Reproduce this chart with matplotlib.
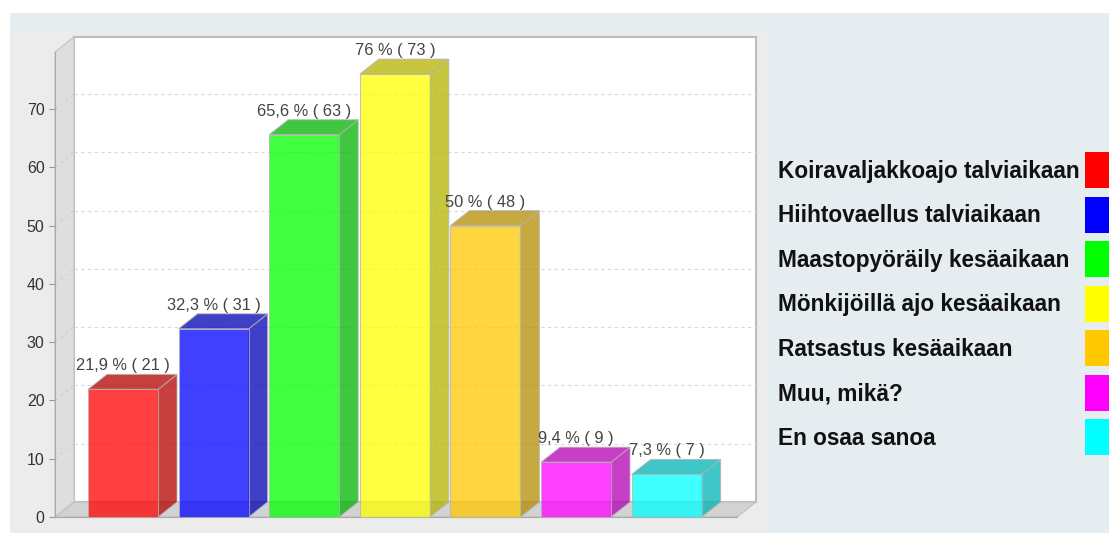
import matplotlib
matplotlib.use("Agg")
import matplotlib.pyplot as plt
from matplotlib.patches import Rectangle, Polygon
import matplotlib.colors as mcolors

# data
categories = ["Koiravaljakkoajo talviaikaan", "Hiihtovaellus talviaikaan",
              "Maastopyöräily kesäaikaan", "Mönkijöillä ajo kesäaikaan",
              "Ratsastus kesäaikaan", "Muu, mikä?", "En osaa sanoa"]
percents = [21.9, 32.3, 65.6, 76, 50, 9.4, 7.3]
counts = [21, 31, 63, 73, 48, 9, 7]
colors = ["#ff0000", "#0000ff", "#00ff00", "#ffff00", "#ffc800", "#ff00ff", "#00ffff"]
yticks = [0, 10, 20, 30, 40, 50, 60, 70]

W, H = 1109, 533
DEPTH_X, DEPTH_Y = 19, 15  # 3d offset in pixels
ALPHA = 0.75

plt.rcParams['font.family'] = ['Liberation Sans', 'DejaVu Sans']

fig = plt.figure(figsize=(W / 100, H / 100), dpi=100)
fig.patch.set_facecolor("white")

def px_rect(x0, y0, x1, y1, color):
    # rectangle given in pixels from top-left
    fig.add_artist(Rectangle((x0 / W, 1 - y1 / H), (x1 - x0) / W, (y1 - y0) / H,
                             transform=fig.transFigure, facecolor=color,
                             edgecolor="none", zorder=-10))

px_rect(10, 13, W, H, "#e6edf1")
px_rect(10, 30, 767, H, "#ececec")

# front plot area (pixels)
left, right, bottom, top = 55, 737, 517, 52
ax = fig.add_axes([left / W, 1 - bottom / H, (right - left) / W, (bottom - top) / H])
ax.patch.set_visible(False)

step = 90.6
xl, xr = (left - 123) / step, (right - 123) / step
ymax = 79.8
ax.set_xlim(xl, xr)
ax.set_ylim(0, ymax)
ddx = DEPTH_X * (xr - xl) / (right - left)
ddy = DEPTH_Y * ymax / (bottom - top)

# back wall
ax.add_patch(Rectangle((xl + ddx, ddy), xr - xl, ymax, facecolor="white",
                       edgecolor="#bcbcbc", lw=1.5, clip_on=False, zorder=0))
# left wall
ax.add_patch(Polygon([(xl, 0), (xl + ddx, ddy), (xl + ddx, ymax + ddy), (xl, ymax)],
                     closed=True, facecolor="#dedede", edgecolor="#c4c4c4", lw=0.8,
                     clip_on=False, zorder=0.5))
# grid lines
for v in yticks[1:]:
    ax.plot([xl + ddx, xr + ddx], [v + ddy, v + ddy], color="#d9d9d9", lw=0.8,
            ls=(0, (3, 3)), clip_on=False, zorder=1)
    ax.plot([xl, xl + ddx], [v, v + ddy], color="#d0d0d0", lw=0.8,
            ls=(0, (3, 3)), clip_on=False, zorder=1)
# floor
ax.add_patch(Polygon([(xl, 0), (xr, 0), (xr + ddx, ddy), (xl + ddx, ddy)],
                     closed=True, facecolor="#d2d2d2", edgecolor="#c0c0c0", lw=0.8,
                     clip_on=False, zorder=1.5))

bw = 70 / step
edge = "#b4b4b4"
for i, (p, n, c) in enumerate(zip(percents, counts, colors)):
    rgb = mcolors.to_rgb(c)
    dark = tuple(0.7 * k for k in rgb)
    x0, x1 = i - bw / 2, i + bw / 2
    ax.add_patch(Polygon([(x1, 0), (x1 + ddx, ddy), (x1 + ddx, p + ddy), (x1, p)],
                         closed=True, facecolor=dark, alpha=ALPHA, edgecolor=edge,
                         lw=0.8, clip_on=False, zorder=3))
    ax.add_patch(Polygon([(x0, p), (x1, p), (x1 + ddx, p + ddy), (x0 + ddx, p + ddy)],
                         closed=True, facecolor=dark, alpha=ALPHA, edgecolor=edge,
                         lw=0.8, clip_on=False, zorder=3))
    ax.add_patch(Rectangle((x0, 0), bw, p, facecolor=rgb, alpha=ALPHA,
                           edgecolor=edge, lw=0.8, clip_on=False, zorder=4))
    label = f"{p:g} % ( {n} )".replace(".", ",")
    ax.annotate(label, (i, p), xytext=(0, (DEPTH_Y + 4) * 0.72),
                textcoords="offset points", ha="center", va="baseline",
                fontsize=11.8, color="#444444", zorder=5, annotation_clip=False)

ax.set_yticks(yticks)
ax.set_xticks([])
ax.tick_params(axis="y", direction="out", length=4.5, width=0.8, color="#999999",
               labelcolor="#333333", labelsize=11.5, pad=3)
for s in ["top", "right"]:
    ax.spines[s].set_visible(False)
ax.spines["left"].set_color("#aaaaaa")
ax.spines["bottom"].set_color("#aaaaaa")
ax.spines["left"].set_linewidth(0.8)
ax.spines["bottom"].set_linewidth(0.8)

# legend on the right, boxes cut at the edge
row0, row_step = 170, 44.5
for i, (name, c) in enumerate(zip(categories, colors)):
    yc = row0 + i * row_step
    fig.text(778 / W, 1 - (yc + 1.5) / H, name, fontsize=16.3, fontweight="bold",
             color="#111111", ha="left", va="center")
    fig.add_artist(Rectangle((1085 / W, 1 - (yc + 18) / H), 40 / W, 36 / H,
                             transform=fig.transFigure, facecolor=c, edgecolor="none"))

fig.savefig("out.png", dpi=100)
